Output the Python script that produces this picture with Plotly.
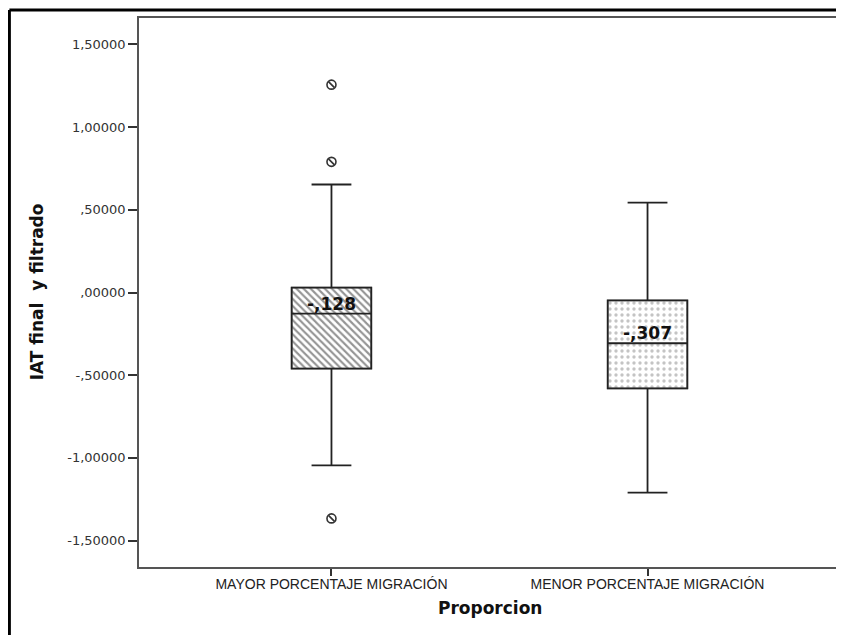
import plotly.graph_objects as go

categories = ["MAYOR PORCENTAJE MIGRACIÓN", "MENOR PORCENTAJE MIGRACIÓN"]
q1 = [-0.46, -0.58]
median = [-0.128, -0.307]
q3 = [0.03, -0.048]
lower_fence = [-1.045, -1.21]
upper_fence = [0.653, 0.544]
median_labels = ["-,128", "-,307"]

outlier_x = ["MAYOR PORCENTAJE MIGRACIÓN", "MAYOR PORCENTAJE MIGRACIÓN", "MAYOR PORCENTAJE MIGRACIÓN"]
outlier_y = [1.257, 0.79, -1.366]

y_tickvals = [-1.5, -1.0, -0.5, 0.0, 0.5, 1.0, 1.5]
y_ticktext = ["-1,50000", "-1,00000", "-,50000", ",00000", ",50000", "1,00000", "1,50000"]

y_title = "IAT final  y filtrado"
x_title = "Proporcion"

box_w = 0.252

fig = go.Figure()

# Patterned box bodies
fig.add_trace(go.Bar(
    x=categories,
    y=[b - a for a, b in zip(q1, q3)],
    base=q1,
    width=box_w,
    marker=dict(
        color="white",
        line=dict(color="#777777", width=1.5),
        pattern=dict(shape=["\\", "."], fgcolor=["#2a2a2a", "#8a8a8a"],
                     bgcolor="white", size=[5, 6], solidity=[0.42, 0.25]),
    ),
    showlegend=False,
    hoverinfo="skip",
))

# Box outlines, whiskers and medians
fig.add_trace(go.Box(
    x=categories,
    q1=q1, median=median, q3=q3,
    lowerfence=lower_fence, upperfence=upper_fence,
    width=box_w,
    whiskerwidth=0.5,
    fillcolor="rgba(0,0,0,0)",
    line=dict(color="#222222", width=1.8),
    boxpoints=False,
    showlegend=False,
))

# Outliers
fig.add_trace(go.Scatter(
    x=outlier_x, y=outlier_y, mode="markers",
    marker=dict(symbol="circle-open", size=9, color="#333333", line=dict(width=1.6)),
    showlegend=False,
))
fig.add_trace(go.Scatter(
    x=outlier_x, y=outlier_y, mode="markers",
    marker=dict(symbol="line-nw", size=6, color="#333333", line=dict(width=1.6, color="#333333")),
    showlegend=False,
))

for c, m, t in zip(categories, median, median_labels):
    fig.add_annotation(x=c, y=m, text="<b>" + t + "</b>", showarrow=False,
                       yanchor="middle", yshift=10,
                       font=dict(family="DejaVu Sans", size=17, color="#111111"))

# Axis titles
fig.add_annotation(xref="paper", yref="paper", x=-0.145, y=0.501, text="<b>" + y_title + "</b>",
                   textangle=-90, showarrow=False, xanchor="center", yanchor="middle",
                   font=dict(family="DejaVu Sans", size=17, color="#111111"))
fig.add_annotation(xref="paper", yref="paper", x=0.5, y=-0.075, text="<b>" + x_title + "</b>",
                   showarrow=False, xanchor="center", yanchor="middle",
                   font=dict(family="DejaVu Sans", size=17, color="#111111"))

# Outer frame (top and left)
fig.add_shape(type="line", xref="paper", yref="paper", x0=-0.1849, x1=1.02, y0=1.0146, y1=1.0146,
              line=dict(color="black", width=3))
fig.add_shape(type="line", xref="paper", yref="paper", x0=-0.1849, x1=-0.1849, y0=1.0146, y1=-0.2,
              line=dict(color="black", width=3))

fig.update_layout(
    width=836, height=627,
    margin=dict(l=131, r=2, t=10, b=68),
    paper_bgcolor="white", plot_bgcolor="white",
    barmode="overlay", boxmode="overlay",
    showlegend=False,
    xaxis=dict(
        type="category", categoryorder="array", categoryarray=categories,
        range=[-0.609, 1.609],
        showline=True, mirror=True, linecolor="#555555", linewidth=1.5,
        ticks="outside", ticklen=7, tickcolor="#333333", tickwidth=1.5,
        ticklabelstandoff=-4,
        showgrid=False, zeroline=False,
        tickfont=dict(family="Liberation Sans Narrow, Arial Narrow, sans-serif", size=14, color="#222222"),
    ),
    yaxis=dict(
        range=[-1.66, 1.66],
        tickvals=y_tickvals, ticktext=y_ticktext,
        showline=True, mirror=True, linecolor="#555555", linewidth=1.5,
        ticks="outside", ticklen=9, tickcolor="#333333", tickwidth=1.5,
        showgrid=False, zeroline=False,
        tickfont=dict(family="DejaVu Sans", size=13, color="#333333"),
    ),
)

fig.write_html("out.html")
